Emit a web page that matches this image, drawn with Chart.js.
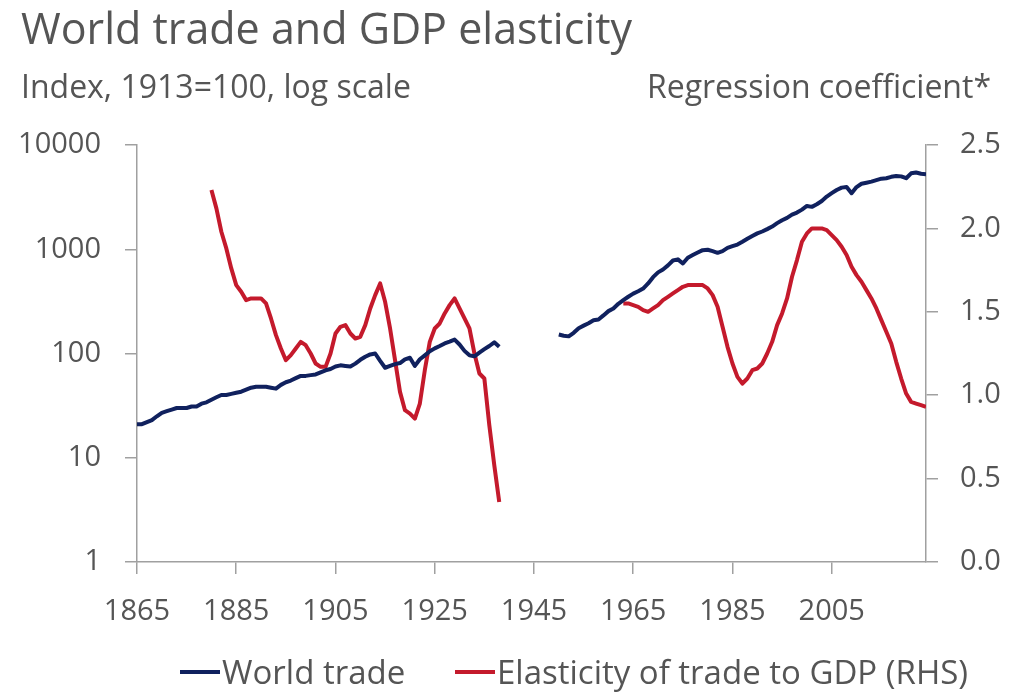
<!DOCTYPE html>
<html>
<head>
<meta charset="utf-8">
<title>World trade and GDP elasticity</title>
<script src="https://cdn.jsdelivr.net/npm/chart.js@4.4.1/dist/chart.umd.min.js"></script>
<style>
  html, body { margin: 0; padding: 0; background: #fff; }
  #wrap { width: 1010px; height: 694px; }
</style>
</head>
<body>
<div id="wrap"><canvas id="tradeChart" width="1010" height="694"></canvas></div>
<script>
// World trade index (1913=100), yearly, two runs either side of the war gap
const tradeStart1 = 1865;
const tradeEarly = [
  21, 21, 22, 23, 25, 27, 28, 29, 30, 30,
  30, 31, 31, 33, 34, 36, 38, 40, 40, 41,
  42, 43, 45, 47, 48, 48, 48, 47, 46, 50,
  53, 55, 58, 61, 61, 62, 63, 66, 69, 71,
  75, 77, 76, 75, 80, 87, 93, 98, 100, 85,
  73, 76, 79, 81, 88, 91, 76, 88, 96, 105,
  112, 118, 125, 130, 136, 122, 106, 96, 94, 102,
  110, 118, 128, 116
];
const tradeStart2 = 1950;
const tradeLate = [
  152, 148, 146, 158, 175, 185, 195, 208, 212, 232,
  255, 270, 300, 325, 350, 375, 395, 420, 470, 540,
  600, 640, 700, 780, 800, 730, 830, 880, 930, 980,
  990, 960, 925, 960, 1030, 1070, 1110, 1180, 1260, 1340,
  1420, 1480, 1560, 1650, 1780, 1900, 2000, 2150, 2250, 2400,
  2600, 2550, 2700, 2900, 3200, 3450, 3700, 3900, 3950, 3450,
  3950, 4250, 4350, 4450, 4600, 4750, 4800, 4950, 5050, 5000,
  4800, 5350, 5450, 5300, 5250
];

// Elasticity of trade to GDP (regression coefficient, RHS)
const elasticityStart1 = 1880;
const elasticityEarly = [
  2.23, 2.12, 1.98, 1.88, 1.76, 1.66, 1.62, 1.57, 1.58, 1.58,
  1.58, 1.55, 1.46, 1.36, 1.28, 1.21, 1.24, 1.28, 1.32, 1.30,
  1.25, 1.19, 1.17, 1.17, 1.25, 1.37, 1.41, 1.42, 1.37, 1.34,
  1.35, 1.42, 1.52, 1.60, 1.67, 1.56, 1.40, 1.21, 1.02, 0.91,
  0.89, 0.86, 0.95, 1.15, 1.32, 1.40, 1.43, 1.49, 1.54, 1.58,
  1.52, 1.46, 1.40, 1.25, 1.13, 1.10, 0.82, 0.58, 0.36
];
const elasticityStart2 = 1963;
const elasticityLate = [
  1.55, 1.55, 1.54, 1.53, 1.51, 1.50, 1.52,
  1.54, 1.57, 1.59, 1.61, 1.63, 1.65, 1.66, 1.66, 1.66, 1.66,
  1.64, 1.60, 1.53, 1.41, 1.29, 1.19, 1.11, 1.07, 1.10, 1.15,
  1.16, 1.19, 1.25, 1.32, 1.42, 1.49, 1.58, 1.71, 1.81, 1.92,
  1.97, 2.00, 2.00, 2.00, 1.99, 1.96, 1.93, 1.89, 1.84, 1.77,
  1.72, 1.68, 1.63, 1.58, 1.52, 1.45, 1.38, 1.31, 1.20, 1.10,
  1.01, 0.96, 0.95, 0.94, 0.93
];

const yearTicks = [1865, 1885, 1905, 1925, 1945, 1965, 1985, 2005];
const tradeTicks = [1, 10, 100, 1000, 10000];
const elasticityTicks = [0, 0.5, 1, 1.5, 2, 2.5];

const TITLE = 'World trade and GDP elasticity';
const LEFT_UNIT = 'Index, 1913=100, log scale';
const RIGHT_UNIT = 'Regression coefficient*';

const FONT = "'Open Sans', 'Noto Sans', sans-serif";
const TEXT = '#555555';
const AXIS = '#a0a0a0';
const NAVY = '#10215e';
const RED = '#c41a2c';

// turn a start year + values into {x, y} points
function toPoints(start, values) {
  return values.map((v, i) => ({x: start + i, y: v}));
}

// a null point between runs breaks the line
const tradePoints = toPoints(tradeStart1, tradeEarly)
  .concat([{x: 1944, y: null}], toPoints(tradeStart2, tradeLate));
const elasticityPoints = toPoints(elasticityStart1, elasticityEarly)
  .concat([{x: 1950, y: null}], toPoints(elasticityStart2, elasticityLate));

const axisGrid = {drawOnChartArea: false, color: AXIS, lineWidth: 1.5, tickLength: 12};
const axisBorder = {display: true, color: AXIS, width: 1.5};
const tickFont = {family: FONT, size: 29};

// title, unit labels and the legend under the x axis
const chartText = {
  id: 'chartText',
  afterDraw(chart) {
    const ctx = chart.ctx;
    ctx.save();
    ctx.fillStyle = TEXT;
    ctx.textBaseline = 'alphabetic';
    ctx.textAlign = 'left';
    ctx.font = `43px ${FONT}`;
    ctx.fillText(TITLE, 21, 44);
    ctx.font = `32px ${FONT}`;
    ctx.fillText(LEFT_UNIT, 21, 98);
    ctx.textAlign = 'right';
    ctx.fillText(RIGHT_UNIT, 991, 98);

    const starts = [180, 455];
    ctx.textAlign = 'left';
    ctx.font = `33px ${FONT}`;
    chart.data.datasets.forEach((ds, i) => {
      const x = starts[i];
      ctx.strokeStyle = ds.borderColor;
      ctx.lineWidth = 4;
      ctx.beginPath();
      ctx.moveTo(x, 672);
      ctx.lineTo(x + 40, 672);
      ctx.stroke();
      ctx.fillStyle = TEXT;
      ctx.fillText(ds.label, x + 42, 684);
    });
    ctx.restore();
  }
};

new Chart(document.getElementById('tradeChart'), {
  type: 'line',
  data: {
    datasets: [
      {
        label: 'World trade',
        data: tradePoints,
        borderColor: NAVY,
        backgroundColor: NAVY,
        borderWidth: 4,
        pointRadius: 0,
        spanGaps: false,
        borderJoinStyle: 'round',
        yAxisID: 'y'
      },
      {
        label: 'Elasticity of trade to GDP (RHS)',
        data: elasticityPoints,
        borderColor: RED,
        backgroundColor: RED,
        borderWidth: 4,
        pointRadius: 0,
        spanGaps: false,
        borderJoinStyle: 'round',
        yAxisID: 'y1'
      }
    ]
  },
  options: {
    responsive: false,
    animation: false,
    devicePixelRatio: 1,
    layout: {padding: {top: 145, left: 0, right: 0, bottom: 0}},
    plugins: {
      legend: {display: false},
      tooltip: {enabled: false}
    },
    scales: {
      x: {
        type: 'linear',
        min: 1865,
        max: 2024,
        grid: axisGrid,
        border: axisBorder,
        afterBuildTicks: (scale) => { scale.ticks = yearTicks.map(v => ({value: v})); },
        afterFit: (scale) => { scale.height = 132; },
        ticks: {
          color: TEXT, font: tickFont, padding: 20,
          autoSkip: false, maxRotation: 0,
          callback: (v) => String(v)
        }
      },
      y: {
        type: 'logarithmic',
        position: 'left',
        min: 1,
        max: 10000,
        grid: axisGrid,
        border: axisBorder,
        afterBuildTicks: (scale) => { scale.ticks = tradeTicks.map(v => ({value: v})); },
        afterFit: (scale) => { scale.width = 137; },
        ticks: {color: TEXT, font: tickFont, padding: 24, callback: (v) => String(v)}
      },
      y1: {
        type: 'linear',
        position: 'right',
        min: 0,
        max: 2.5,
        grid: axisGrid,
        border: axisBorder,
        afterBuildTicks: (scale) => { scale.ticks = elasticityTicks.map(v => ({value: v})); },
        afterFit: (scale) => { scale.width = 84; },
        ticks: {color: TEXT, font: tickFont, padding: 22, callback: (v) => v.toFixed(1)}
      }
    }
  },
  plugins: [chartText]
});
</script>
</body>
</html>
